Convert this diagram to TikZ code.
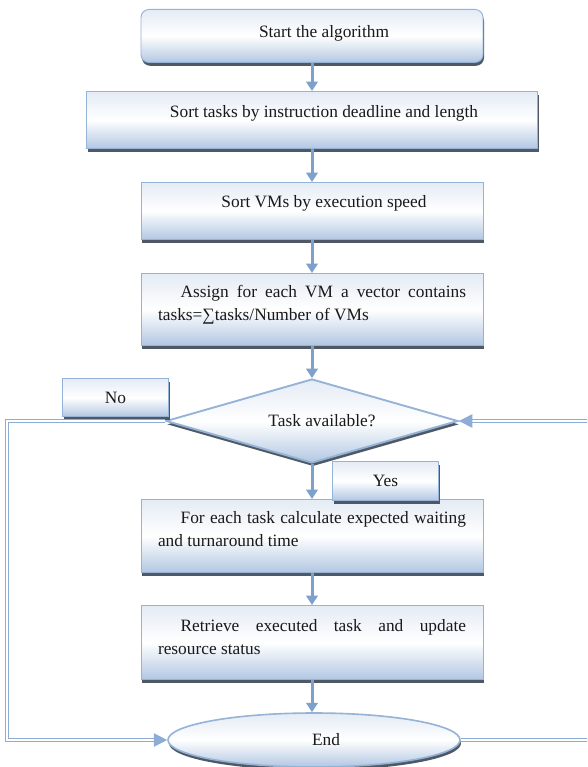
\documentclass[tikz,border=0pt]{standalone}
\usepackage{fontspec}
\setmainfont{Liberation Serif}
\usetikzlibrary{shapes.geometric,shadows,arrows.meta}

\definecolor{boxline}{RGB}{149,179,215}
\definecolor{boxfill}{RGB}{178,199,226}
\definecolor{arrowblue}{RGB}{125,160,205}
\definecolor{railblue}{RGB}{141,173,214}
\definecolor{txtgray}{RGB}{25,25,25}

\hyphenpenalty=10000
\exhyphenpenalty=10000
\tolerance=10000

\tikzset{
	shaded/.style={draw=boxline, line width=0.7pt, top color=white!65!boxfill, bottom color=boxfill, middle color=white,
		drop shadow={shadow xshift=0.75pt, shadow yshift=-2.5pt, fill=black!60!boxline, opacity=0.9},
		font=\fontsize{13}{17.25}\selectfont, text=txtgray, inner sep=0pt},
	box/.style={shaded, rectangle, minimum width=256.5pt, anchor=north},
	oneline/.style={box, execute at begin node={\hspace*{18pt}}},
	para/.style={box, text width=231pt, align=justify, execute at begin node={\hspace*{17pt}}},
	decision/.style={shaded, diamond, line width=1.4pt, aspect=3.5, minimum width=219pt, minimum height=63pt, execute at begin node={\hspace*{15pt}}},
	terminal/.style={shaded, ellipse, line width=1.2pt, minimum width=219pt, minimum height=40.5pt, execute at begin node={\hspace*{18pt}}},
	tag/.style={shaded, rectangle, minimum width=79.5pt, minimum height=29pt},
	flow/.style={draw=arrowblue, line width=2.25pt, -{Triangle[length=7pt,width=8.5pt]}},
	rail/.style={draw=railblue, line width=0.9pt, double=white, double distance=1.5pt, -{Triangle[length=10pt,width=10pt]}}
}

\begin{document}
\begin{tikzpicture}[x=0.75pt, y=-0.75pt]
	\useasboundingbox (0,0) rectangle (587,767);
	\fill[white] (0,0) rectangle (587,767);
	\clip (0,0) rectangle (587,767);

	\draw (312,9) node[oneline, rounded corners=6pt, text height=21pt, text depth=18.75pt] (start) {Start the algorithm} ;
	\draw (312,91) node[oneline, minimum width=338.25pt, text height=19.5pt, text depth=23.25pt] (sorttasks) {Sort tasks by instruction deadline and length} ;
	\draw (312,182) node[oneline, text height=18.75pt, text depth=24pt] (sortvms) {Sort VMs by execution speed} ;
	\draw (312,273) node[para, text height=18pt, text depth=36pt] (assign) {Assign for each VM a vector contains tasks=∑tasks/Number of VMs} ;

	\draw (312,421) node[decision] (task) {Task available?} ;
	\draw (115.5,397.5) node[tag] (no) {No} ;

	\draw (312,499) node[para, text height=18pt, text depth=36.75pt] (calc) {For each task calculate expected waiting and turnaround time} ;
	\draw (385.5,481) node[tag] (yes) {Yes} ;
	\draw (312,605) node[para, text height=19.5pt, text depth=36pt] (retrieve) {Retrieve executed task and update resource status} ;
	\draw (314,740) node[terminal] (stop) {End} ;

	\draw[flow] (start.south) -- (sorttasks.north) ;
	\draw[flow] (sorttasks.south) -- (sortvms.north) ;
	\draw[flow] (sortvms.south) -- (assign.north) ;
	\draw[flow] (assign.south) -- (task.north) ;
	\draw[flow] (task.south) -- (calc.north) ;
	\draw[flow] (calc.south) -- (retrieve.north) ;
	\draw[flow] (retrieve.south) -- (stop.north -| retrieve.south) ;

	\coordinate (leftrail) at (7,0) ;
	\coordinate (rightrail) at (600,0) ;
	\draw[rail] (task.west) -- (task.west -| leftrail) |- (stop.west) ;
	\draw[rail] (stop.east) -- (stop.east -| rightrail) |- (task.east) ;
\end{tikzpicture}
\end{document}
